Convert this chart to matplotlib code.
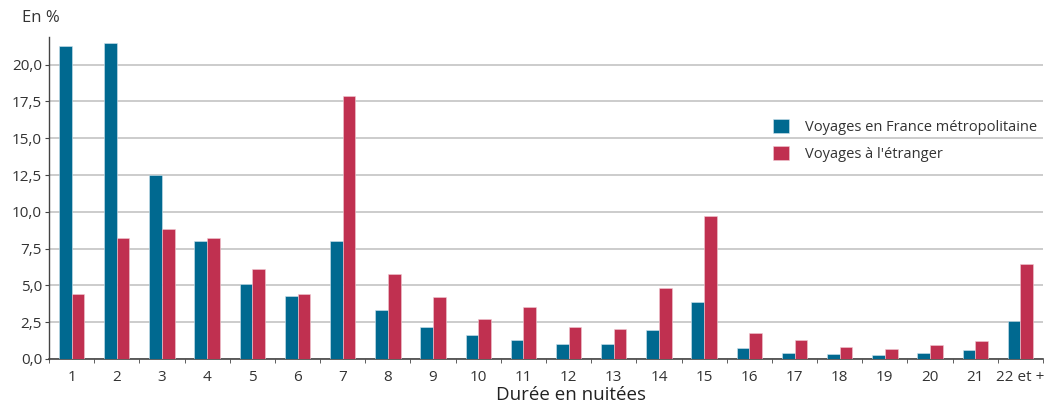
import numpy as np
import matplotlib
matplotlib.use("Agg")
import matplotlib.pyplot as plt
from matplotlib.ticker import FuncFormatter, FixedLocator

plt.rcParams['font.family'] = ['Open Sans', 'DejaVu Sans']

# Données (en %)
categories = ['1', '2', '3', '4', '5', '6', '7', '8', '9', '10', '11',
              '12', '13', '14', '15', '16', '17', '18', '19', '20', '21', '22 et +']
france = [21.3, 21.5, 12.5, 8.0, 5.1, 4.3, 8.0, 3.35, 2.2, 1.6, 1.3,
          1.05, 1.0, 1.95, 3.9, 0.75, 0.4, 0.37, 0.27, 0.41, 0.64, 2.6]
etranger = [4.4, 8.2, 8.85, 8.25, 6.1, 4.4, 17.9, 5.75, 4.2, 2.75, 3.55,
            2.2, 2.05, 4.85, 9.75, 1.8, 1.3, 0.8, 0.66, 0.93, 1.2, 6.45]

blue = '#006990'
red = '#c03050'
grey_txt = '#333333'

fig = plt.figure(figsize=(10.47, 4.05), dpi=100)
ax = fig.add_axes([0.0468, 0.1136, 0.9494, 0.7958])

x = np.arange(len(categories))
w = 0.28
ax.bar(x - w / 2, france, w, color=blue, edgecolor='#d0e4ee', linewidth=0.4,
       label='Voyages en France métropolitaine', zorder=3)
ax.bar(x + w / 2, etranger, w, color=red, edgecolor='#f0c8d2', linewidth=0.4,
       label="Voyages à l'étranger", zorder=3)

ax.set_xlim(-0.5, len(categories) - 0.5)
ax.set_ylim(0, 21.9)
ax.set_yticks(np.arange(0, 20.1, 2.5))
ax.yaxis.set_major_formatter(FuncFormatter(lambda v, p: f'{v:.1f}'.replace('.', ',')))
ax.grid(axis='y', color='#c4c4c4', linewidth=1.2, zorder=0)

ax.set_xticks(x)
ax.set_xticklabels(categories)
ax.xaxis.set_minor_locator(FixedLocator(np.arange(-0.5, len(categories), 1.0)))
ax.tick_params(axis='x', which='major', length=0, pad=8, labelsize=11, labelcolor=grey_txt)
ax.tick_params(axis='x', which='minor', length=3, color='#444444', direction='out')
ax.tick_params(axis='y', length=3, color='#444444', labelsize=11, labelcolor=grey_txt, pad=2)

for s in ['top', 'right']:
    ax.spines[s].set_visible(False)
ax.spines['left'].set_color('#444444')
ax.spines['bottom'].set_color('#444444')
ax.spines['left'].set_linewidth(1.0)
ax.spines['bottom'].set_linewidth(1.2)

fig.text(0.021, 0.955, 'En %', fontsize=12, color=grey_txt, va='center')
fig.text(0.545, 0.024, 'Durée en nuitées', fontsize=13.5, color='#222222',
         ha='center', va='center')

leg = ax.legend(loc='upper left', bbox_to_anchor=(0.728, 0.745), frameon=False,
                fontsize=10.5, handlelength=1.1, handleheight=1.1,
                handletextpad=1.1, labelspacing=0.75, borderpad=0, borderaxespad=0)
for t in leg.get_texts():
    t.set_color(grey_txt)

fig.savefig('out.png', dpi=100)
